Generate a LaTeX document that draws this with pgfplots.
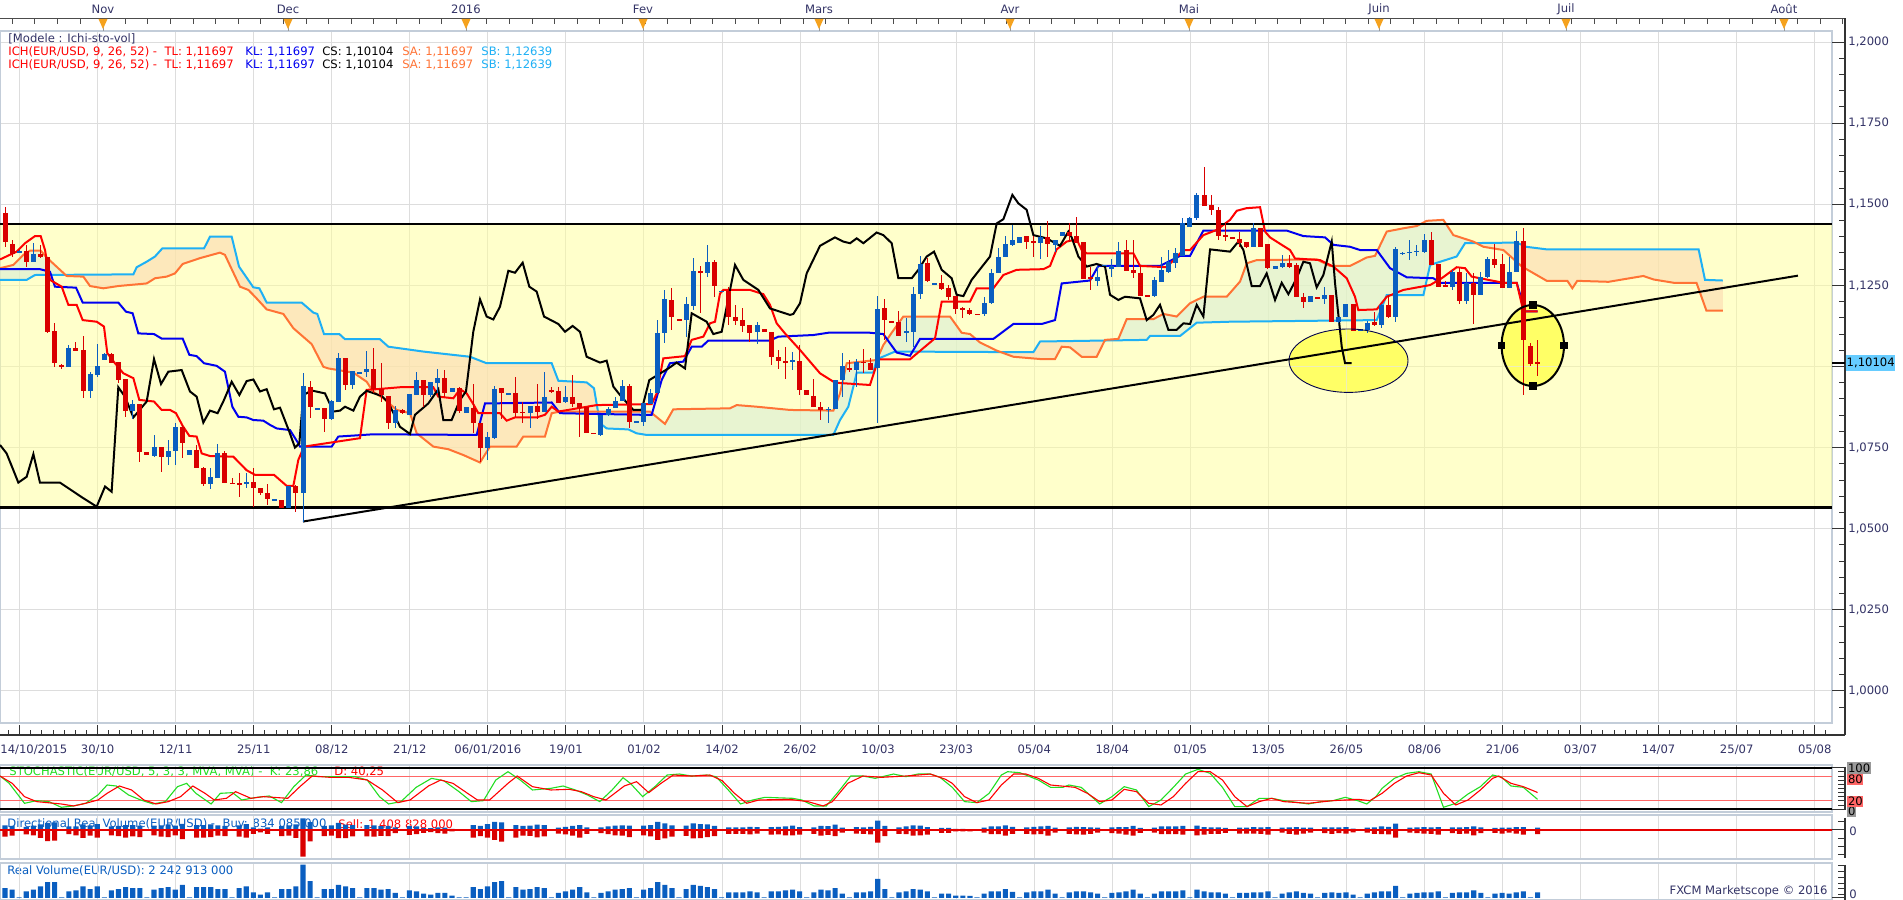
\documentclass[border=0pt]{standalone}
\usepackage{fontspec}
\setmainfont{DejaVu Sans}
\usepackage{pgfplots}
\usepackage{pgfplotstable}
\pgfplotsset{compat=1.18}
\definecolor{navy}{HTML}{333366}
\definecolor{cblue}{HTML}{0A5EC0}
\definecolor{cred}{HTML}{D90000}
\definecolor{tenkan}{HTML}{FF0000}
\definecolor{kijun}{HTML}{0000F0}
\definecolor{spa}{HTML}{FF7335}
\definecolor{spb}{HTML}{1EB0F5}
\definecolor{bandc}{HTML}{FFFF99}
\definecolor{cgreen}{HTML}{D9EED6}
\definecolor{corange}{HTML}{FCDAB1}
\definecolor{hilite}{HTML}{FFFF33}
\definecolor{gridc}{HTML}{DDDDDD}
\definecolor{framec}{HTML}{C3CDD9}
\definecolor{stochg}{HTML}{22DD22}
\definecolor{tri}{HTML}{F5A21E}
\definecolor{pricebox}{HTML}{66CCFF}
\definecolor{boxred}{HTML}{FF6666}
\definecolor{boxgray}{HTML}{999999}
\newcommand{\fs}{\fontsize{5.8pt}{6.8pt}\selectfont}

\pgfplotstableread{
b o h l c
2 1.1353 1.1359 1.1349 1.1356
4 1.1323 1.1380 1.1323 1.1347
9 1.0999 1.1066 1.0999 1.1056
12 1.0923 1.0982 1.0902 1.0977
13 1.0974 1.1070 1.0969 1.1002
14 1.1020 1.1043 1.1020 1.1039
18 1.0864 1.0897 1.0837 1.0883
21 1.0724 1.0789 1.0722 1.0753
23 1.0722 1.0773 1.0696 1.0738
24 1.0738 1.0827 1.0696 1.0812
26 1.0727 1.0743 1.0727 1.0743
29 1.0638 1.0686 1.0621 1.0658
30 1.0657 1.0761 1.0657 1.0732
34 1.0638 1.0671 1.0625 1.0644
38 1.0587 1.0591 1.0587 1.0591
40 1.0563 1.0632 1.0563 1.0632
42 1.0611 1.0981 1.0522 1.0940
44 1.0866 1.0871 1.0866 1.0871
46 1.0837 1.0897 1.0835 1.0895
47 1.0892 1.1043 1.0892 1.1025
49 1.0943 1.0986 1.0930 1.0986
50 1.0979 1.0984 1.0979 1.0984
51 1.0982 1.1048 1.0969 1.0991
55 1.0825 1.0878 1.0809 1.0866
57 1.0851 1.0915 1.0851 1.0915
58 1.0912 1.0982 1.0912 1.0958
60 1.0912 1.0951 1.0907 1.0951
61 1.0948 1.0991 1.0917 1.0964
63 1.0920 1.0933 1.0920 1.0933
65 1.0856 1.0876 1.0856 1.0874
68 1.0748 1.0797 1.0712 1.0784
69 1.0779 1.0940 1.0776 1.0930
71 1.0912 1.0917 1.0912 1.0917
74 1.0858 1.0878 1.0809 1.0878
76 1.0861 1.0982 1.0861 1.0907
79 1.0889 1.0940 1.0886 1.0907
84 1.0789 1.0851 1.0786 1.0851
85 1.0849 1.0876 1.0849 1.0868
86 1.0871 1.0907 1.0871 1.0894
87 1.0894 1.0958 1.0894 1.0940
89 1.0825 1.0833 1.0825 1.0833
90 1.0830 1.0886 1.0817 1.0886
91 1.0884 1.0930 1.0884 1.0917
92 1.0917 1.1143 1.0917 1.1102
93 1.1102 1.1236 1.1071 1.1207
96 1.1143 1.1215 1.1092 1.1193
97 1.1186 1.1333 1.1174 1.1294
99 1.1287 1.1375 1.1277 1.1323
101 1.1230 1.1234 1.1230 1.1234
106 1.1107 1.1138 1.1069 1.1128
111 1.1014 1.1046 1.0989 1.1019
116 1.0866 1.0876 1.0827 1.0870
117 1.0868 1.0959 1.0868 1.0959
118 1.0957 1.1043 1.0907 1.1002
120 1.0989 1.1022 1.0938 1.1015
123 1.0994 1.1217 1.0825 1.1176
127 1.1102 1.1149 1.1077 1.1110
128 1.1107 1.1246 1.1061 1.1224
129 1.1224 1.1341 1.1207 1.1316
131 1.1253 1.1256 1.1253 1.1256
138 1.1161 1.1215 1.1156 1.1195
139 1.1195 1.1300 1.1193 1.1287
140 1.1289 1.1364 1.1287 1.1337
141 1.1337 1.1402 1.1337 1.1378
142 1.1375 1.1436 1.1370 1.1390
143 1.1382 1.1398 1.1382 1.1398
146 1.1380 1.1433 1.1330 1.1398
148 1.1375 1.1391 1.1354 1.1391
149 1.1402 1.1416 1.1402 1.1416
154 1.1265 1.1310 1.1248 1.1277
155 1.1310 1.1313 1.1310 1.1313
156 1.1301 1.1330 1.1277 1.1310
157 1.1306 1.1385 1.1306 1.1357
162 1.1217 1.1275 1.1215 1.1267
163 1.1262 1.1337 1.1262 1.1297
164 1.1292 1.1359 1.1287 1.1323
165 1.1318 1.1364 1.1303 1.1349
166 1.1341 1.1457 1.1341 1.1443
167 1.1431 1.1462 1.1431 1.1457
168 1.1457 1.1534 1.1452 1.1529
176 1.1369 1.1443 1.1369 1.1426
179 1.1300 1.1310 1.1300 1.1310
180 1.1308 1.1344 1.1303 1.1318
184 1.1200 1.1217 1.1200 1.1217
186 1.1207 1.1244 1.1193 1.1220
188 1.1138 1.1154 1.1135 1.1154
189 1.1154 1.1193 1.1154 1.1193
191 1.1111 1.1115 1.1111 1.1115
192 1.1113 1.1141 1.1102 1.1135
194 1.1128 1.1193 1.1118 1.1190
196 1.1152 1.1369 1.1138 1.1361
197 1.1346 1.1354 1.1344 1.1351
198 1.1349 1.1390 1.1328 1.1354
199 1.1353 1.1375 1.1341 1.1357
200 1.1354 1.1408 1.1351 1.1390
204 1.1246 1.1298 1.1236 1.1290
206 1.1203 1.1289 1.1193 1.1258
208 1.1220 1.1292 1.1220 1.1275
209 1.1275 1.1338 1.1272 1.1331
212 1.1241 1.1336 1.1241 1.1292
213 1.1292 1.1419 1.1292 1.1388
}\upT

\pgfplotstableread{
b o h l c
0 1.1472 1.1491 1.1369 1.1385
1 1.1377 1.1390 1.1339 1.1347
3 1.1356 1.1375 1.1308 1.1323
5 1.1347 1.1375 1.1333 1.1337
6 1.1337 1.1339 1.1102 1.1107
7 1.1109 1.1135 1.0999 1.1012
8 1.1005 1.1007 1.0991 1.0999
10 1.1056 1.1074 1.1047 1.1049
11 1.1051 1.1094 1.0902 1.0923
15 1.1039 1.1041 1.1010 1.1012
16 1.1015 1.1015 1.0948 1.0958
17 1.0960 1.0962 1.0845 1.0864
19 1.0884 1.0884 1.0707 1.0738
20 1.0735 1.0735 1.0727 1.0727
22 1.0753 1.0753 1.0676 1.0722
25 1.0814 1.0820 1.0717 1.0763
27 1.0743 1.0758 1.0686 1.0686
28 1.0686 1.0691 1.0632 1.0638
31 1.0732 1.0738 1.0640 1.0642
32 1.0642 1.0655 1.0638 1.0638
33 1.0640 1.0671 1.0597 1.0636
35 1.0644 1.0686 1.0568 1.0625
36 1.0625 1.0625 1.0604 1.0609
37 1.0609 1.0638 1.0573 1.0591
39 1.0589 1.0589 1.0563 1.0563
41 1.0632 1.0635 1.0553 1.0611
43 1.0938 1.0955 1.0840 1.0876
45 1.0871 1.0871 1.0799 1.0837
48 1.1025 1.1025 1.0928 1.0943
52 1.0991 1.1058 1.0917 1.0930
53 1.0932 1.1012 1.0892 1.0912
54 1.0909 1.0909 1.0806 1.0825
56 1.0866 1.0868 1.0853 1.0856
59 1.0958 1.0958 1.0876 1.0912
62 1.0964 1.0989 1.0907 1.0919
64 1.0933 1.0936 1.0856 1.0864
66 1.0871 1.0946 1.0794 1.0827
67 1.0827 1.0827 1.0707 1.0748
70 1.0933 1.0933 1.0837 1.0919
72 1.0919 1.0967 1.0845 1.0858
73 1.0861 1.0891 1.0825 1.0856
75 1.0878 1.0946 1.0837 1.0861
77 1.0928 1.0938 1.0917 1.0921
78 1.0923 1.0938 1.0886 1.0889
80 1.0907 1.0974 1.0876 1.0884
81 1.0886 1.0886 1.0782 1.0873
82 1.0874 1.0874 1.0794 1.0794
83 1.0796 1.0796 1.0792 1.0792
88 1.0940 1.0946 1.0809 1.0830
94 1.1205 1.1241 1.1113 1.1152
95 1.1145 1.1145 1.1141 1.1141
98 1.1295 1.1310 1.1164 1.1287
100 1.1323 1.1328 1.1215 1.1248
102 1.1234 1.1246 1.1128 1.1152
103 1.1152 1.1190 1.1128 1.1141
104 1.1143 1.1179 1.1107 1.1126
105 1.1128 1.1128 1.1077 1.1104
107 1.1115 1.1115 1.1107 1.1107
108 1.1107 1.1107 1.1005 1.1028
109 1.1028 1.1051 1.0991 1.1018
110 1.1015 1.1061 1.0960 1.1012
112 1.1017 1.1066 1.0912 1.0928
113 1.0928 1.0928 1.0911 1.0911
114 1.0909 1.0961 1.0874 1.0874
115 1.0874 1.0889 1.0835 1.0866
119 1.0994 1.1020 1.0984 1.0989
121 1.1015 1.1053 1.0979 1.1010
122 1.1010 1.1025 1.0989 1.0989
124 1.1179 1.1207 1.1082 1.1143
125 1.1140 1.1140 1.1135 1.1135
126 1.1136 1.1172 1.1095 1.1095
130 1.1318 1.1334 1.1262 1.1265
132 1.1256 1.1282 1.1236 1.1239
133 1.1242 1.1251 1.1205 1.1215
134 1.1217 1.1217 1.1162 1.1177
135 1.1181 1.1184 1.1149 1.1174
136 1.1174 1.1179 1.1159 1.1161
137 1.1162 1.1162 1.1159 1.1159
144 1.1402 1.1402 1.1361 1.1385
145 1.1387 1.1402 1.1337 1.1382
147 1.1398 1.1450 1.1339 1.1378
150 1.1416 1.1443 1.1385 1.1402
151 1.1402 1.1460 1.1382 1.1382
152 1.1385 1.1385 1.1271 1.1271
153 1.1275 1.1308 1.1236 1.1269
158 1.1359 1.1390 1.1295 1.1295
159 1.1297 1.1390 1.1272 1.1287
160 1.1287 1.1313 1.1217 1.1217
161 1.1220 1.1220 1.1215 1.1215
169 1.1529 1.1614 1.1496 1.1496
170 1.1498 1.1529 1.1467 1.1482
171 1.1484 1.1493 1.1390 1.1402
172 1.1405 1.1446 1.1388 1.1398
173 1.1398 1.1398 1.1392 1.1392
174 1.1393 1.1416 1.1369 1.1382
175 1.1383 1.1385 1.1364 1.1369
177 1.1426 1.1426 1.1369 1.1369
178 1.1378 1.1378 1.1300 1.1303
181 1.1318 1.1344 1.1303 1.1308
182 1.1313 1.1318 1.1215 1.1215
183 1.1215 1.1226 1.1179 1.1200
185 1.1215 1.1215 1.1207 1.1207
187 1.1220 1.1220 1.1138 1.1138
190 1.1193 1.1193 1.1111 1.1111
193 1.1138 1.1169 1.1125 1.1128
195 1.1190 1.1220 1.1149 1.1152
201 1.1390 1.1416 1.1313 1.1313
202 1.1316 1.1316 1.1244 1.1246
203 1.1251 1.1262 1.1246 1.1246
205 1.1290 1.1303 1.1193 1.1203
207 1.1258 1.1289 1.1131 1.1220
210 1.1330 1.1378 1.1303 1.1313
211 1.1316 1.1347 1.1241 1.1241
214 1.1388 1.1426 1.0912 1.1082
215 1.1063 1.1074 1.1002 1.1008
216 1.1014 1.1082 1.0971 1.10104
}\downT

\pgfplotstableread{
b v
-0.7 1.1330
1.64 1.1354
2.82 1.1380
4.23 1.1402
5.03 1.1402
5.64 1.1359
6.34 1.1267
7.99 1.1246
8.93 1.1190
10.1 1.1190
10.95 1.1143
12.92 1.1138
13.95 1.1123
14.42 1.1041
15.5 1.1010
16.68 1.0979
18.09 1.0964
18.93 1.0897
21.0 1.0892
22.08 1.0866
23.26 1.0866
24.1 1.0856
25.04 1.0817
25.98 1.0786
27.01 1.0784
27.72 1.0732
28.89 1.0724
32.18 1.0722
34.06 1.0680
35.24 1.0666
37.91 1.0666
39.7 1.0632
40.64 1.0632
41.34 1.0712
42.14 1.0753
50.03 1.0779
50.97 1.0928
52.38 1.0930
55.67 1.0936
60.37 1.0936
61.07 1.0907
63.19 1.0902
64.13 1.0930
65.07 1.0917
66.0 1.0884
66.71 1.0856
69.76 1.0856
70.7 1.0833
71.88 1.0843
74.93 1.0843
76.1 1.0851
77.05 1.0876
77.99 1.0861
83.39 1.0881
91.14 1.0884
91.85 1.0917
92.78 1.1025
95.84 1.1032
96.78 1.1082
98.42 1.1092
99.36 1.1133
100.07 1.1138
100.77 1.1225
101.24 1.1236
105.0 1.1236
106.88 1.1223
107.82 1.1190
108.76 1.1133
109.93 1.1102
112.05 1.1051
114.87 1.0979
116.98 1.0950
121.91 1.0943
123.09 1.1022
127.55 1.1022
131.08 1.1087
132.02 1.1200
136.01 1.1200
136.95 1.1241
139.3 1.1241
140.71 1.1282
142.59 1.1298
146.35 1.1300
147.29 1.1310
148.22 1.1361
149.63 1.1385
151.04 1.1392
151.75 1.1359
152.45 1.1349
159.03 1.1349
159.97 1.1310
163.73 1.1306
166.08 1.1359
167.02 1.1359
168.9 1.1405
170.78 1.1421
172.66 1.1452
173.6 1.1480
174.97 1.1488
176.89 1.1491
177.59 1.1416
178.29 1.1398
179.94 1.1375
181.11 1.1359
181.82 1.1333
185.34 1.1328
187.22 1.1308
189.1 1.1272
190.27 1.1215
190.74 1.1174
193.33 1.1176
194.74 1.1215
197.09 1.1236
200.85 1.1251
202.49 1.1272
204.6 1.1306
205.78 1.1303
206.72 1.1277
211.18 1.1258
213.06 1.1258
214.0 1.1170
216 1.11697
}\tenkanT

\pgfplotstableread{
b v
-0.7 1.1300
4.93 1.1300
6.34 1.1292
7.05 1.1246
10.01 1.1243
10.95 1.1197
15.97 1.1197
17.05 1.1169
17.99 1.1164
18.79 1.1102
21.0 1.1100
22.08 1.1086
25.04 1.1086
25.98 1.1036
27.01 1.1032
28.05 1.1010
29.83 1.1002
31.0 1.0984
32.04 1.0876
32.89 1.0845
34.06 1.0843
35.0 1.0835
36.41 1.0833
37.35 1.0820
38.29 1.0809
40.17 1.0804
41.34 1.0763
41.58 1.0753
46.04 1.0753
46.98 1.0784
51.9 1.0791
66.48 1.0789
67.65 1.0886
77.05 1.0889
78.22 1.0856
89.97 1.0851
91.14 1.0851
92.55 1.0958
93.72 1.1010
95.6 1.1015
96.78 1.1061
98.19 1.1061
99.13 1.1080
107.82 1.1080
109.0 1.1092
113.93 1.1097
116.04 1.1104
121.91 1.1104
123.79 1.1100
125.67 1.1043
127.55 1.1033
128.96 1.1085
139.3 1.1085
142.12 1.1131
146.11 1.1131
147.99 1.1143
148.93 1.1256
152.92 1.1265
154.1 1.1310
162.79 1.1310
165.61 1.1341
167.02 1.1341
168.9 1.1419
180.64 1.1419
182.99 1.1402
186.05 1.1398
187.22 1.1375
189.57 1.1369
190.98 1.1359
193.33 1.1359
195.21 1.1303
197.56 1.1275
201.32 1.1272
202.26 1.1258
213.06 1.1258
214.24 1.1170
216 1.11697
}\kijunT

\pgfplotstableread{
b v
-0.7 1.1303
1.17 1.1313
2.58 1.1344
3.52 1.1357
5.03 1.1357
5.87 1.1336
8.69 1.1279
11.04 1.1277
11.98 1.1248
13.86 1.1241
15.97 1.1248
19.97 1.1256
21.14 1.1272
22.79 1.1277
23.96 1.1287
25.04 1.1316
27.48 1.1334
30.3 1.1351
31.0 1.1344
33.12 1.1246
34.3 1.1236
35.24 1.1215
36.88 1.1176
39.23 1.1162
40.64 1.1118
43.22 1.1069
44.87 1.0999
45.57 1.0994
49.1 1.0981
50.97 1.0953
51.9 1.0922
53.32 1.0902
55.2 1.0866
57.08 1.0856
58.02 1.0794
60.37 1.0753
62.48 1.0745
64.6 1.0727
66.95 1.0704
68.35 1.0753
72.11 1.0753
73.05 1.0784
76.1 1.0784
77.05 1.0856
78.22 1.0861
90.9 1.0861
93.02 1.0823
94.19 1.0868
102.18 1.0871
103.12 1.0881
105.94 1.0876
110.64 1.0866
116.75 1.0864
117.69 1.0917
118.63 1.1010
122.85 1.1020
123.79 1.1066
124.97 1.1104
126.61 1.1154
133.19 1.1154
134.83 1.1104
136.01 1.1100
137.42 1.1074
139.77 1.1049
142.12 1.1030
145.88 1.1023
147.99 1.1023
148.93 1.1061
150.1 1.1059
151.75 1.1030
153.86 1.1030
155.04 1.1082
156.92 1.1085
158.09 1.1146
161.85 1.1146
163.26 1.1162
165.14 1.1154
167.02 1.1195
168.9 1.1215
172.19 1.1215
174.07 1.1262
175.01 1.1318
176.42 1.1328
184.87 1.1330
186.75 1.1310
189.57 1.1310
191.92 1.1336
193.09 1.1341
194.74 1.1416
197.09 1.1426
198.97 1.1433
200.38 1.1449
202.72 1.1452
204.13 1.1405
206.95 1.1385
208.36 1.1369
211.18 1.1359
213.8 1.1308
217.3 1.1264
220.2 1.1264
220.9 1.1241
221.6 1.1264
226.0 1.1261
230.9 1.1279
232.4 1.1268
235.2 1.1258
238.4 1.1258
239.8 1.1172
242.1 1.1172
}\saT

\pgfplotstableread{
b v
-0.7 1.1267
3.05 1.1267
4.23 1.1282
18.09 1.1284
18.56 1.1306
19.97 1.1323
21.14 1.1339
22.17 1.1364
28.05 1.1364
28.89 1.1400
31.95 1.1400
32.98 1.1308
35.0 1.1244
35.85 1.1241
36.88 1.1197
41.81 1.1197
43.46 1.1166
44.02 1.1162
44.96 1.1100
47.12 1.1100
47.92 1.1084
52.85 1.1084
54.03 1.1061
58.96 1.1046
65.54 1.1030
67.88 1.1010
77.05 1.1010
77.99 1.0956
81.98 1.0951
83.01 1.0933
83.86 1.0825
84.8 1.0809
87.85 1.0806
89.02 1.0794
90.44 1.0789
116.75 1.0789
117.69 1.0835
118.86 1.0876
119.57 1.0938
120.04 1.0981
122.38 1.0981
122.85 1.1022
125.44 1.1046
144.94 1.1044
145.88 1.1077
160.91 1.1082
161.38 1.1094
165.61 1.1094
167.96 1.1135
172.66 1.1138
193.33 1.1143
194.74 1.1220
199.91 1.1220
200.85 1.1313
204.6 1.1339
205.78 1.1380
213.06 1.1382
214.4 1.1369
217.3 1.1361
238.7 1.1361
239.6 1.1267
242.1 1.1265
}\sbT

\pgfplotstableread{
b v
-0.7 1.0758
0.23 1.0732
1.88 1.0642
3.05 1.0660
4.0 1.0730
4.93 1.0642
7.75 1.0642
11.04 1.0594
12.92 1.0568
14.1 1.0630
15.03 1.0614
15.97 1.0936
16.91 1.0907
18.09 1.0843
19.97 1.0892
21.0 1.1023
21.99 1.0946
23.02 1.0984
24.9 1.0989
26.07 1.0923
27.01 1.0907
27.95 1.0827
28.89 1.0864
29.97 1.0856
30.87 1.0897
31.95 1.0953
33.03 1.0912
34.06 1.0955
35.0 1.0960
35.94 1.0923
36.88 1.0930
37.91 1.0868
38.76 1.0873
40.07 1.0799
40.87 1.0750
41.48 1.0763
42.05 1.0912
43.22 1.0926
45.1 1.0917
46.28 1.0861
47.22 1.0864
47.92 1.0876
49.1 1.0864
50.03 1.0907
50.97 1.0925
53.09 1.0909
54.03 1.0889
55.67 1.0814
57.08 1.0792
57.78 1.0851
59.66 1.0886
61.07 1.0930
61.78 1.0835
62.95 1.0835
64.13 1.0897
64.97 1.0923
66.0 1.1107
66.95 1.1207
67.88 1.1154
68.82 1.1145
69.76 1.1184
70.94 1.1295
71.88 1.1289
72.96 1.1320
73.9 1.1246
74.93 1.1231
75.97 1.1154
77.99 1.1131
78.93 1.1107
80.0 1.1125
81.04 1.1107
81.98 1.1030
83.86 1.1012
84.8 1.1018
85.74 1.0938
86.68 1.0912
88.56 1.0866
89.73 1.0866
90.81 1.0958
93.49 1.0994
94.66 1.1012
95.84 1.0994
96.78 1.1164
98.89 1.1138
99.83 1.1100
101.01 1.1107
102.89 1.1313
104.06 1.1267
106.18 1.1236
107.82 1.1179
110.64 1.1159
111.11 1.1162
112.05 1.1195
112.99 1.1287
114.87 1.1372
116.98 1.1398
118.16 1.1385
119.1 1.1380
120.04 1.1395
120.98 1.1380
122.85 1.1413
123.79 1.1405
124.97 1.1380
125.91 1.1272
127.79 1.1272
128.73 1.1298
129.9 1.1339
130.94 1.1354
132.02 1.1298
133.42 1.1272
134.13 1.1221
135.07 1.1217
136.24 1.1267
138.83 1.1339
139.77 1.1441
140.71 1.1454
141.98 1.1529
142.82 1.1503
143.99 1.1483
144.94 1.1405
146.81 1.1395
148.7 1.1372
149.87 1.1416
150.34 1.1398
151.28 1.1339
152.45 1.1308
153.86 1.1316
155.04 1.1308
155.74 1.1221
156.92 1.1205
157.86 1.1215
159.97 1.1210
160.91 1.1143
161.85 1.1159
162.79 1.1190
163.96 1.1113
165.14 1.1113
166.08 1.1133
167.02 1.1131
167.96 1.1190
168.9 1.1154
169.84 1.1361
172.66 1.1354
173.83 1.1385
174.54 1.1359
175.71 1.1248
176.89 1.1248
177.82 1.1287
179.0 1.1205
179.94 1.1258
180.88 1.1223
182.05 1.1272
182.99 1.1323
183.93 1.1318
184.87 1.1244
185.81 1.1282
186.99 1.1385
187.46 1.1256
188.4 1.1061
188.87 1.1010
189.81 1.1010
}\chikouT

\pgfplotstableread{
b v
-0.7 80
0.59 62.4
2.75 14.4
4.47 20.8
6.2 18.4
7.92 4.8
9.65 8
11.37 14.4
13.1 34.4
14.39 58.4
15.68 56
17.41 34.4
19.13 22.4
20.86 12.8
22.59 18.4
24.31 54.4
25.6 62.4
26.9 38.4
29.05 12.8
30.35 38.4
32.07 40
33.37 22.4
35.52 28.8
37.25 32
38.97 16
40.7 54.4
42.43 82.4
44.15 78.4
49.33 78.4
51.05 70.4
52.78 30.4
54.07 12.8
55.8 18.4
57.95 52.8
60.11 74.4
61.83 68.8
63.99 42.4
65.72 18.4
67.44 20.8
69.17 70.4
70.89 90.4
72.62 70.4
74.34 46.4
76.93 50.4
78.66 56
80.38 46.4
82.1 34.4
83.83 18.4
85.56 46.4
87.11 76
88.14 62.4
89.87 30.4
91.59 54.4
93.32 82.4
95.04 84.8
96.77 80
98.92 82.4
100.22 78.4
101.94 46.4
103.67 12.8
105.39 22.4
107.12 28.8
111.0 26.4
112.3 22.4
114.02 8
115.75 8
117.47 42.4
119.2 80
120.92 80
122.65 74.4
125.24 84.8
126.96 78.4
128.69 84.8
130.41 84.8
131.78 76.8
133.51 52.8
135.24 18.4
136.97 16
138.7 38.4
140.43 82.4
141.3 90.4
143.03 88
145.63 70.4
147.36 52.8
149.09 52.8
149.95 58.4
151.68 52.8
153.42 26.4
154.28 12.8
156.01 30.4
157.74 54.4
159.47 46.4
161.2 6.4
162.93 22.4
164.67 52.8
166.4 84.8
168.13 96
169.86 86.4
171.59 52.8
173.32 6.4
175.05 6.4
176.78 26.4
178.51 26.4
180.24 20.8
183.7 12.8
185.43 18.4
187.17 20.8
188.9 28.8
190.63 20.8
191.93 12.8
193.22 30.4
194.09 50.4
195.82 74.4
197.55 86.4
199.28 90.4
201.01 84.8
202.74 4.8
204.47 14.4
206.2 36.8
207.94 54.4
209.67 82.4
210.96 76.8
212.26 56
213.99 52.8
216 23.86
}\kT

\pgfplotstableread{
b v
-0.7 80
1.02 62.4
2.75 30.4
4.47 18.4
7.92 12.8
9.65 8
11.37 14.4
13.1 22.4
14.39 38.4
16.12 56
17.84 46.4
19.57 22.4
21.29 12.8
23.02 18.4
24.74 30.4
26.47 56
28.19 38.4
29.49 22.4
31.21 26.4
32.5 42.4
34.66 26.4
36.39 30.4
39.84 26.4
41.56 54.4
43.29 80
45.88 76.8
48.46 76.8
51.05 70.4
53.21 46.4
55.36 16
57.09 22.4
59.68 56
61.4 70.4
63.13 62.4
64.85 42.4
66.58 22.4
68.3 22.4
70.89 62.4
72.19 80
74.34 54.4
76.93 46.4
79.52 48
81.24 42.4
82.97 30.4
84.69 22.4
87.28 56
89.01 66.4
90.73 40
92.46 62.4
94.18 82.4
96.77 80
99.36 82.4
101.08 68.8
102.81 38.4
104.53 14.4
106.26 22.4
110.57 24
113.16 18.4
115.31 8
116.61 18.4
118.77 62.4
120.92 80
123.51 76.8
126.96 80
130.41 84.8
132.57 72
133.51 62.4
135.24 30.4
136.97 16
138.7 22.4
140.43 58.4
142.16 84.8
143.9 84.8
145.63 74.4
147.36 58.4
150.82 52.8
152.55 38.4
154.28 18.4
156.01 22.4
157.74 48
159.47 42.4
161.2 14.4
162.93 10.4
164.67 30.4
166.4 62.4
168.13 90.4
169.86 90.4
171.59 70.4
173.32 30.4
175.05 6.4
176.78 18.4
178.51 26.4
180.24 18.4
183.7 14.4
187.17 20.8
190.63 24
192.36 20.8
194.09 38.4
195.82 62.4
197.55 80
199.28 88
201.01 82.4
202.74 38.4
204.47 10.4
206.2 22.4
207.94 46.4
209.67 74.4
210.53 80
212.26 62.4
213.99 54.4
215.72 42.4
216 40.25
}\dT

\pgfplotstableread{
b v bu se
0 3.9 1.6 2.3
1 3.3 1.4 1.9
2 0.2 0.1 0.1
3 2.6 1.1 1.5
4 3.3 1.5 1.8
5 4.6 1.9 2.7
6 6.2 2.4 3.8
7 6.2 2.6 3.6
8 0.2 0.1 0.1
9 2.6 1.2 1.4
10 3.0 1.2 1.8
11 4.6 1.9 2.7
12 3.5 1.6 1.9
13 4.6 2.0 2.6
14 0.2 0.1 0.1
15 3.0 1.2 1.8
16 3.5 1.4 2.1
17 4.3 1.7 2.6
18 3.9 1.7 2.2
19 3.9 1.5 2.4
20 0.2 0.1 0.1
21 3.3 1.5 1.8
22 3.9 1.6 2.3
23 4.3 1.9 2.4
24 3.3 1.5 1.8
25 5.2 2.1 3.1
26 0.2 0.1 0.1
27 4.3 1.7 2.6
28 4.3 1.7 2.6
29 4.3 1.9 2.4
30 3.5 1.6 1.9
31 3.5 1.4 2.1
32 0.2 0.1 0.1
33 3.9 1.6 2.3
34 4.6 2.0 2.6
35 2.2 0.9 1.3
36 1.3 0.5 0.8
37 2.2 0.9 1.3
38 0.2 0.1 0.1
39 3.5 1.4 2.1
40 3.5 1.6 1.9
41 4.6 1.9 2.7
42 13.1 4.0 9.1
43 6.6 2.7 3.9
44 0.2 0.1 0.1
45 3.5 1.4 2.1
46 3.5 1.6 1.9
47 5.2 2.4 2.8
48 4.6 1.8 2.8
49 3.9 1.7 2.2
50 0.2 0.1 0.1
51 3.9 1.7 2.2
52 3.9 1.6 2.3
53 3.3 1.3 2.0
54 3.5 1.4 2.1
55 2.0 0.9 1.1
56 0.2 0.1 0.1
57 3.0 1.3 1.7
58 2.6 1.2 1.4
59 1.7 0.7 1.0
60 1.3 0.6 0.7
61 2.0 0.9 1.1
62 2.0 0.8 1.2
63 0.9 0.4 0.5
64 0.2 0.1 0.1
65 0.2 0.1 0.1
66 4.3 1.7 2.6
67 3.5 1.4 2.1
68 4.6 2.0 2.6
69 6.2 2.8 3.4
70 6.6 2.6 4.0
71 0.2 0.1 0.1
72 4.3 1.7 2.6
73 3.3 1.4 1.9
74 3.5 1.5 2.0
75 4.3 1.8 2.5
76 3.9 1.7 2.2
77 0.2 0.1 0.1
78 2.0 0.8 1.2
79 2.6 1.1 1.5
80 3.3 1.4 1.9
81 4.3 1.7 2.6
82 2.2 0.9 1.3
83 0.2 0.1 0.1
84 2.0 0.9 1.1
85 2.6 1.2 1.4
86 3.3 1.5 1.8
87 3.5 1.6 1.9
88 3.9 1.5 2.4
89 0.2 0.1 0.1
90 3.3 1.5 1.8
91 3.9 1.7 2.2
92 6.2 2.8 3.4
93 5.2 2.3 2.9
94 3.9 1.6 2.3
95 0.2 0.1 0.1
96 3.5 1.5 2.0
97 5.2 2.3 2.9
98 4.8 2.0 2.8
99 4.3 1.9 2.4
100 3.5 1.4 2.1
101 0.2 0.1 0.1
102 2.2 0.9 1.3
103 2.2 0.9 1.3
104 2.2 0.9 1.3
105 2.6 1.1 1.5
106 2.2 1.0 1.2
107 0.2 0.1 0.1
108 2.6 1.0 1.6
109 2.6 1.1 1.5
110 3.0 1.2 1.8
111 3.3 1.5 1.8
112 2.6 1.0 1.6
113 0.2 0.1 0.1
114 2.2 0.9 1.3
115 3.3 1.4 1.9
116 3.0 1.3 1.7
117 3.9 1.8 2.1
118 1.7 0.8 0.9
119 0.2 0.1 0.1
120 2.2 1.0 1.2
121 2.2 0.9 1.3
122 2.6 1.1 1.5
123 7.5 3.2 4.3
124 3.5 1.4 2.1
125 0.2 0.1 0.1
126 2.2 0.9 1.3
127 2.6 1.2 1.4
128 3.5 1.6 1.9
129 3.3 1.5 1.8
130 2.6 1.0 1.6
131 0.2 0.1 0.1
132 1.7 0.7 1.0
133 1.7 0.7 1.0
134 0.9 0.4 0.5
135 0.9 0.4 0.5
136 0.8 0.3 0.5
137 0.2 0.1 0.1
138 1.7 0.8 0.9
139 2.6 1.2 1.4
140 2.6 1.2 1.4
141 3.5 1.6 1.9
142 2.4 1.1 1.3
143 0.2 0.1 0.1
144 2.2 0.9 1.3
145 2.6 1.1 1.5
146 2.6 1.2 1.4
147 3.3 1.4 1.9
148 1.7 0.8 0.9
149 0.2 0.1 0.1
150 2.2 0.9 1.3
151 2.6 1.1 1.5
152 2.6 1.0 1.6
153 2.2 0.9 1.3
154 1.7 0.8 0.9
155 0.2 0.1 0.1
156 2.0 0.9 1.1
157 2.2 1.0 1.2
158 2.6 1.0 1.6
159 3.3 1.4 1.9
160 1.7 0.7 1.0
161 0.2 0.1 0.1
162 1.7 0.8 0.9
163 2.6 1.2 1.4
164 2.6 1.2 1.4
165 2.6 1.2 1.4
166 3.0 1.4 1.6
167 0.2 0.1 0.1
168 3.3 1.5 1.8
169 2.6 1.0 1.6
170 2.2 0.9 1.3
171 2.2 0.9 1.3
172 1.7 0.7 1.0
173 0.2 0.1 0.1
174 2.0 0.8 1.2
175 2.0 0.8 1.2
176 2.2 1.0 1.2
177 2.2 0.9 1.3
178 2.6 1.0 1.6
179 0.2 0.1 0.1
180 1.7 0.8 0.9
181 2.2 0.9 1.3
182 2.6 1.0 1.6
183 2.0 0.8 1.2
184 1.7 0.8 0.9
185 0.2 0.1 0.1
186 2.0 0.9 1.1
187 2.2 0.9 1.3
188 2.0 0.9 1.1
189 2.2 1.0 1.2
190 1.3 0.5 0.8
191 0.2 0.1 0.1
192 1.7 0.8 0.9
193 2.2 0.9 1.3
194 2.6 1.2 1.4
195 2.6 1.1 1.5
196 4.8 2.2 2.6
197 0.2 0.1 0.1
198 1.7 0.8 0.9
199 2.0 0.9 1.1
200 2.2 1.0 1.2
201 2.2 0.9 1.3
202 2.6 1.0 1.6
203 0.2 0.1 0.1
204 2.0 0.9 1.1
205 2.2 0.9 1.3
206 2.2 1.0 1.2
207 3.0 1.2 1.8
208 2.0 0.9 1.1
209 0.2 0.1 0.1
210 1.7 0.7 1.0
211 2.0 0.8 1.2
212 1.7 0.8 0.9
213 2.2 1.0 1.2
214 2.6 1.0 1.6
215 0.2 0.1 0.1
216 2.243 0.834 1.409
}\volT

\pgfplotsset{
  panel/.style={scale only axis, anchor=south west, width=916pt,
    xmin=-0.705, xmax=257.5,
    xtick={2.06,13.06,...,255.06}, xticklabels={}, yticklabels={},
    major tick length=0pt, minor tick length=0pt, tick style={draw=none},
    xmajorgrids, grid style={gridc, line width=0.5pt},
    axis line style={framec, line width=1.2pt}},
}

\begin{document}
\begin{tikzpicture}
\useasboundingbox (0,0) rectangle (951.5pt,450pt);
\fill[white] (0,0) rectangle (951.5pt,450pt);

% items under the data: highlighted zones and lower legends
\begin{scope}[x=0.5pt,y=-0.5pt,shift={(0pt,450pt)}]
\fill[hilite] (1348.5,360.7) ellipse [x radius=59.5, y radius=31.7];
\fill[hilite] (1532.8,345.5) ellipse [x radius=31.2, y radius=40.5];
\node[anchor=west,inner sep=0pt,font=\fs,text=stochg] at (9,772) {STOCHASTIC(EUR/USD, 5, 3, 3, MVA, MVA) -\ \ K: 23,86};
\node[anchor=west,inner sep=0pt,font=\fs,text=red] at (334,772) {D: 40,25};
\node[anchor=west,inner sep=0pt,font=\fs,text=cblue] at (7,824) {Directional Real Volume(EUR/USD) -\ \ Buy: 834 085 000};
\node[anchor=west,inner sep=0pt,font=\fs,text=red] at (338,824) {Sell: 1 408 828 000};
\node[anchor=west,inner sep=0pt,font=\fs,text=cblue] at (7,871) {Real Volume(EUR/USD): 2 242 913 000};
\end{scope}

% ---------------- main price panel ----------------
\begin{axis}[panel, at={(0pt,88.5pt)}, height=346pt,
  ymin=0.9901, ymax=1.20342,
  ytick={1.0,1.025,1.05,1.075,1.1,1.125,1.15,1.175,1.2}, ymajorgrids]
  \addplot[draw=none, fill=bandc, fill opacity=0.5] coordinates {(-0.705,1.0565) (257.5,1.0565) (257.5,1.1440) (-0.705,1.1440) (-0.705,1.0565)};
  % cloud (area between senkou span A and B)
  \addplot[draw=none, fill=cgreen, fill opacity=0.6] coordinates {(-0.7,1.1303) (1.17,1.1313) (2.58,1.1344) (3.52,1.1357) (5.03,1.1357) (5.87,1.1336) (8.5,1.1283) (4.23,1.1282) (3.05,1.1267) (-0.7,1.1267)};
  \addplot[draw=none, fill=corange, fill opacity=0.6] coordinates {(8.5,1.1283) (8.69,1.1279) (11.04,1.1277) (11.98,1.1248) (13.86,1.1241) (15.97,1.1248) (19.97,1.1256) (21.14,1.1272) (22.79,1.1277) (23.96,1.1287) (25.04,1.1316) (27.48,1.1334) (30.3,1.1351) (31.0,1.1344) (33.12,1.1246) (34.3,1.1236) (35.24,1.1215) (36.88,1.1176) (39.23,1.1162) (40.64,1.1118) (43.22,1.1069) (44.87,1.0999) (45.57,1.0994) (49.1,1.0981) (50.97,1.0953) (51.9,1.0922) (53.32,1.0902) (55.2,1.0866) (57.08,1.0856) (58.02,1.0794) (60.37,1.0753) (62.48,1.0745) (64.6,1.0727) (66.95,1.0704) (68.35,1.0753) (72.11,1.0753) (73.05,1.0784) (76.1,1.0784) (77.05,1.0856) (78.22,1.0861) (83.58,1.0861) (83.01,1.0933) (81.98,1.0951) (77.99,1.0956) (77.05,1.1010) (67.88,1.1010) (65.54,1.1030) (58.96,1.1046) (54.03,1.1061) (52.85,1.1084) (47.92,1.1084) (47.12,1.1100) (44.96,1.1100) (44.02,1.1162) (43.46,1.1166) (41.81,1.1197) (36.88,1.1197) (35.85,1.1241) (35.0,1.1244) (32.98,1.1308) (31.95,1.1400) (28.89,1.1400) (28.05,1.1364) (22.17,1.1364) (21.14,1.1339) (19.97,1.1323) (18.56,1.1306) (18.09,1.1284) (8.5,1.1283)};
  \addplot[draw=none, fill=cgreen, fill opacity=0.6] coordinates {(83.58,1.0861) (90.9,1.0861) (93.02,1.0823) (94.19,1.0868) (102.18,1.0871) (103.12,1.0881) (105.94,1.0876) (110.64,1.0866) (116.75,1.0864) (117.69,1.0917) (118.63,1.1010) (122.85,1.1020) (123.79,1.1066) (124.97,1.1104) (126.61,1.1154) (133.19,1.1154) (134.83,1.1104) (136.01,1.1100) (137.42,1.1074) (139.77,1.1049) (140.3,1.1045) (125.44,1.1046) (122.85,1.1022) (122.38,1.0981) (120.04,1.0981) (119.57,1.0938) (118.86,1.0876) (117.69,1.0835) (116.75,1.0789) (90.44,1.0789) (89.02,1.0794) (87.85,1.0806) (84.8,1.0809) (83.86,1.0825) (83.58,1.0861)};
  \addplot[draw=none, fill=corange, fill opacity=0.6] coordinates {(140.3,1.1045) (142.12,1.1030) (145.88,1.1023) (147.99,1.1023) (148.93,1.1061) (150.1,1.1059) (151.75,1.1030) (153.86,1.1030) (154.95,1.1078) (145.88,1.1077) (144.94,1.1044) (140.3,1.1045)};
  \addplot[draw=none, fill=cgreen, fill opacity=0.6] coordinates {(154.95,1.1078) (155.04,1.1082) (156.92,1.1085) (158.09,1.1146) (161.85,1.1146) (163.26,1.1162) (165.14,1.1154) (167.02,1.1195) (168.9,1.1215) (172.19,1.1215) (174.07,1.1262) (175.01,1.1318) (176.42,1.1328) (184.87,1.1330) (186.75,1.1310) (189.57,1.1310) (191.92,1.1336) (193.09,1.1341) (194.74,1.1416) (197.09,1.1426) (198.97,1.1433) (200.38,1.1449) (202.72,1.1452) (204.13,1.1405) (206.95,1.1385) (207.3,1.1381) (205.78,1.1380) (204.6,1.1339) (200.85,1.1313) (199.91,1.1220) (194.74,1.1220) (193.33,1.1143) (172.66,1.1138) (167.96,1.1135) (165.61,1.1094) (161.38,1.1094) (160.91,1.1082) (154.95,1.1078)};
  \addplot[draw=none, fill=corange, fill opacity=0.6] coordinates {(207.3,1.1381) (208.36,1.1369) (211.18,1.1359) (213.8,1.1308) (217.3,1.1264) (220.2,1.1264) (220.9,1.1241) (221.6,1.1264) (226.0,1.1261) (230.9,1.1279) (232.4,1.1268) (235.2,1.1258) (238.4,1.1258) (239.8,1.1172) (242.1,1.1172) (242.1,1.1265) (239.6,1.1267) (238.7,1.1361) (217.3,1.1361) (214.4,1.1369) (213.06,1.1382) (207.3,1.1381)};
  % ichimoku lines
  \addplot[spb, line width=1pt] table[x=b,y=v] {\sbT};
  \addplot[spa, line width=1pt] table[x=b,y=v] {\saT};
  \addplot[kijun, line width=1pt] table[x=b,y=v] {\kijunT};
  \addplot[tenkan, line width=1pt] table[x=b,y=v] {\tenkanT};
  \addplot[black, line width=1pt] table[x=b,y=v] {\chikouT};
  % range lines and trend line
  \addplot[black, line width=1.1pt] coordinates {(-0.705,1.1440) (257.5,1.1440)};
  \addplot[black, line width=1.1pt] coordinates {(-0.705,1.0565) (257.5,1.0565)};
  \addplot[black, line width=1pt] coordinates {(42,1.0522) (252.7,1.1280)};
  % candles: wicks
  \addplot[draw=none, mark=none, forget plot, error bars/.cd, y dir=both, y explicit, error mark=none,
    error bar style={line width=0.5pt, draw=cblue}]
    table[x=b, y expr={(\thisrow{h}+\thisrow{l})/2}, y error expr={(\thisrow{h}-\thisrow{l})/2}] {\upT};
  \addplot[draw=none, mark=none, forget plot, error bars/.cd, y dir=both, y explicit, error mark=none,
    error bar style={line width=0.5pt, draw=cred}]
    table[x=b, y expr={(\thisrow{h}+\thisrow{l})/2}, y error expr={(\thisrow{h}-\thisrow{l})/2}] {\downT};
  % candles: bodies
  \addplot[draw=none, mark=none, forget plot, error bars/.cd, y dir=both, y explicit, error mark=none,
    error bar style={line width=2.5pt, draw=cblue}]
    table[x=b, y expr={(\thisrow{o}+\thisrow{c})/2}, y error expr={max(abs(\thisrow{c}-\thisrow{o})/2,0.00022)}] {\upT};
  \addplot[draw=none, mark=none, forget plot, error bars/.cd, y dir=both, y explicit, error mark=none,
    error bar style={line width=2.5pt, draw=cred}]
    table[x=b, y expr={(\thisrow{o}+\thisrow{c})/2}, y error expr={max(abs(\thisrow{c}-\thisrow{o})/2,0.00022)}] {\downT};
\end{axis}

% ---------------- stochastic ----------------
\begin{axis}[panel, at={(0pt,44pt)}, height=23.5pt, ymin=-6.5, ymax=106.5]
  \addplot[black, line width=1pt] coordinates {(-0.705,100) (257.5,100)};
  \addplot[black, line width=1pt] coordinates {(-0.705,0) (257.5,0)};
  \addplot[boxred, line width=0.5pt] coordinates {(-0.705,80) (257.5,80)};
  \addplot[boxred, line width=0.5pt] coordinates {(-0.705,20) (257.5,20)};
  \addplot[stochg, line width=0.55pt] table[x=b,y=v] {\kT};
  \addplot[red, line width=0.55pt] table[x=b,y=v] {\dT};
\end{axis}

% ---------------- directional volume ----------------
\begin{axis}[panel, at={(0pt,20.5pt)}, height=22pt, ymin=-9.9, ymax=5.12]
  \addplot[ybar, bar shift=0pt, bar width=0.72, fill=cblue, draw=none] table[x=b,y=bu] {\volT};
  \addplot[ybar, bar shift=0pt, bar width=0.72, fill=cred, draw=none] table[x=b,y expr=-\thisrow{se}] {\volT};
  \addplot[red!90!black, line width=1pt] coordinates {(-0.705,0) (257.5,0)};
\end{axis}

% ---------------- real volume ----------------
\begin{axis}[panel, at={(0pt,0pt)}, height=18.5pt, ymin=-0.79, ymax=13.76]
  \addplot[ybar, bar shift=0pt, bar width=0.72, fill=cblue, draw=none] table[x=b,y=v] {\volT};
\end{axis}

% ---------------- decorations ----------------
\begin{scope}[x=0.5pt,y=-0.5pt,shift={(0pt,450pt)}]
  % outlines of the highlighted zones and handles
  \draw[black!70!blue, line width=0.45pt] (1348.5,360.7) ellipse [x radius=59.5, y radius=31.7];
  \draw[black, line width=1pt] (1532.8,345.5) ellipse [x radius=31.2, y radius=40.5];
  \foreach \hx/\hy in {1532.8/305, 1532.8/386, 1501.6/345.5, 1564/345.5}
    \fill[black] (\hx-3.8,\hy-3.8) rectangle (\hx+3.8,\hy+3.8);
  % top month strip
  \draw[black!70, line width=0.6pt] (0,18.5) -- (1845,18.5);
  \foreach \i in {0,...,81} \draw[black!70, line width=0.5pt] ({12.2+22.6*\i},18.5) -- ++(0,6);
  \foreach \x in {103,288,466,643,819,1010,1189,1379,1566,1784} {
    \draw[black!40, line width=0.4pt] (\x,19) -- (\x,31);
    \fill[tri] (\x-4.5,19) -- (\x+4.5,19) -- (\x,29) -- cycle;}
  \foreach \x/\t in {103/Nov,288/Dec,466/2016,643/Fev,819/Mars,1010/Avr,1189/Mai,1379/Juin,1566/Juil,1784/Août}
    \node[font=\fs, text=navy, inner sep=0pt] at (\x,9) {\t};
  % right price scale
  \draw[black!80, line width=0.6pt] (1845,18.5) -- (1845,735);
  \foreach \j in {1,...,42} \draw[black!80, line width=0.5pt] (1839,{25.88+16.22*\j}) -- (1845,{25.88+16.22*\j});
  \foreach \yy/\t in {42.1/{1,2000},123.2/{1,1750},204.3/{1,1500},285.4/{1,1250},447.6/{1,0750},528.7/{1,0500},609.8/{1,0250},690.9/{1,0000}} {
    \draw[black!80, line width=0.5pt] (1832,\yy) -- (1845,\yy);
    \node[anchor=west, inner sep=0pt, font=\fs, text=navy] at (1848,\yy) {\t};}
  \draw[black!80, line width=0.5pt] (1832,366.5) -- (1845,366.5);
  \draw[black, line width=0.6pt] (1832,363) -- (1845,363);
  \node[anchor=west, fill=pricebox, inner xsep=0.4pt, inner ysep=1.6pt, font=\fs, text=black] at (1845.5,363) {1,10104};
  % bottom date scale
  \draw[black!80, line width=0.6pt] (0,735) -- (1845,735);
  \foreach \j in {0,...,163} \draw[black!80, line width=0.5pt] ({8.45+11.15*\j},735) -- ++(0,-5);
  \foreach \k/\t in {1/30\slash 10,2/12\slash 11,3/25\slash 11,4/08\slash 12,5/21\slash 12,6/06\slash 01\slash 2016,7/19\slash 01,8/01\slash 02,9/14\slash 02,10/26\slash 02,11/10\slash 03,12/23\slash 03,13/05\slash 04,14/18\slash 04,15/01\slash 05,16/13\slash 05,17/26\slash 05,18/08\slash 06,19/21\slash 06,20/03\slash 07,21/14\slash 07,22/25\slash 07,23/05\slash 08} {
    \draw[black!80, line width=0.5pt] ({19.6+78.05*\k},735) -- ++(0,-10);
    \node[font=\fs, text=navy, inner sep=0pt] at ({19.6+78.05*\k},750) {\t};}
  \draw[black!80, line width=0.5pt] (19.6,735) -- ++(0,-10);
  \node[anchor=west, inner sep=0pt, font=\fs, text=navy] at (0,750) {14/10/2015};
  % legend of main panel
  \node[anchor=west, inner sep=0pt, font=\fs, text=navy] at (8,39) {[Modele : Ichi-sto-vol]};
  \foreach \yy in {52,65} {
    \node[anchor=west, inner sep=0pt, font=\fs, text=red] at (8,\yy) {ICH(EUR/USD, 9, 26, 52) -\ \ TL: 1,11697};
    \node[anchor=west, inner sep=0pt, font=\fs, text=kijun] at (245,\yy) {KL: 1,11697};
    \node[anchor=west, inner sep=0pt, font=\fs, text=black] at (322,\yy) {CS: 1,10104};
    \node[anchor=west, inner sep=0pt, font=\fs, text=spa] at (402,\yy) {SA: 1,11697};
    \node[anchor=west, inner sep=0pt, font=\fs, text=spb] at (481,\yy) {SB: 1,12639};}
  % stochastic scale
  \draw[black!80, line width=0.6pt] (1845,767) -- (1845,810);
  \draw[black!80, line width=0.5pt] (1832,767.7) -- (1845,767.7);
  \draw[black!80, line width=0.5pt] (1832,809.3) -- (1845,809.3);
  \foreach \k in {1,...,9} \draw[black!80, line width=0.5pt] (1838,{767.7+4.16*\k}) -- (1845,{767.7+4.16*\k});
  \node[anchor=west, fill=boxred, inner xsep=0.3pt, inner ysep=0.6pt, font=\fs, text=black] at (1847,779) {80};
  \node[anchor=west, fill=boxgray, inner xsep=0.3pt, inner ysep=0.6pt, font=\fs, text=black] at (1847,768) {100};
  \node[anchor=west, fill=boxgray, inner xsep=0.3pt, inner ysep=0.6pt, font=\fs, text=black] at (1847,811) {0};
  \node[anchor=west, fill=boxred, inner xsep=0.3pt, inner ysep=0.6pt, font=\fs, text=black] at (1847,801.5) {20};
  % directional scale
  \draw[black!80, line width=0.6pt] (1845,818) -- (1845,858);
  \draw[black!80, line width=0.5pt] (1832,830) -- (1845,830);
  \foreach \t in {821.7,838.3,846.6,854.9} \draw[black!80, line width=0.5pt] (1838,\t) -- (1845,\t);
  \node[anchor=west, inner sep=0pt, font=\fs, text=navy] at (1849,831) {0};
  % volume scale
  \draw[black!80, line width=0.6pt] (1845,865) -- (1845,900);
  \foreach \t in {866,871.7,877.4,883.1,888.8,894.5} \draw[black!80, line width=0.5pt] (1838,\t) -- (1845,\t);
  \draw[black!80, line width=0.5pt] (1832,898) -- (1845,898);
  \node[anchor=west, inner sep=0pt, font=\fs, text=navy] at (1849,894.5) {0};
  \node[anchor=east, inner sep=0pt, font=\fs, text=navy] at (1828,891) {FXCM Marketscope \textcopyright\ 2016};
\end{scope}
\end{tikzpicture}
\end{document}
